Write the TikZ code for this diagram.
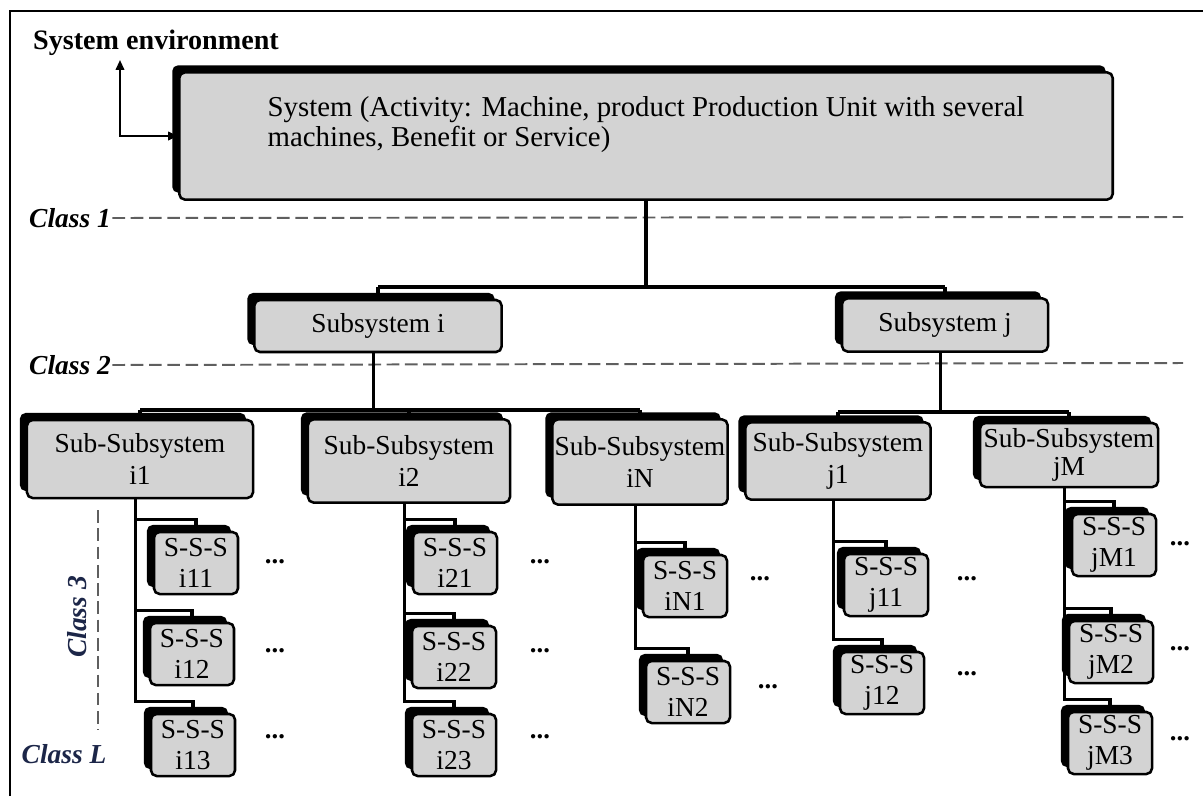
\documentclass[tikz,border=0pt]{standalone}
\usepackage{fontspec}
\setmainfont{Liberation Serif}
\usetikzlibrary{arrows.meta,shadows,calc}
\definecolor{BoxGray}{RGB}{211,211,211}
\definecolor{DashGray}{RGB}{95,95,95}
\definecolor{ClassNavy}{RGB}{28,38,72}

\begin{document}
\begin{tikzpicture}[x=0.025cm,y=-0.025cm,>={Triangle[length=7pt,width=6pt]},
    unit/.style={rectangle,rounded corners=4pt,fill=BoxGray,draw=black,line width=1.8pt,
      align=center,inner sep=0pt,font=\fontsize{19.5}{22.5}\selectfont,
      general shadow={fill=black,shadow xshift=-5pt,shadow yshift=5pt}},
    box/.style 2 args={unit,minimum width=#1,minimum height=#2},
    sss/.style={box={2.1cm}{1.55cm}},
    link/.style={line width=2.2pt,black},
    level/.style={DashGray,line width=1.4pt,dash pattern=on 9pt off 4pt},
    cls/.style={font=\fontsize{19.5}{22}\selectfont\bfseries\itshape,inner sep=1pt},
    dots/.style={font=\fontsize{19}{19}\selectfont\bfseries,inner sep=0pt}]
  \useasboundingbox (0,0) rectangle (1203,796);
  \draw[line width=1.4pt] (10,796) -- (10,11) -- (1203,11);

  % system and environment
  \node[box={23.33cm}{3.18cm},align=left,font=\fontsize{20.5}{21}\selectfont] (sys) at (646,136)
    {System (Activity: Machine, product Production Unit with several\\machines, Benefit or Service)\\\mbox{}};
  \node[font=\fontsize{20}{22}\selectfont\bfseries] (env) at (156,43) {System environment};
  \coordinate (envtip) at (120,60);
  \draw[<->,line width=1.4pt] (envtip) |- (sys.west);

  % class lines
  \node[cls] (cls1) at (70,218) {Class 1};
  \node[cls] (cls2) at (70,365) {Class 2};
  \node[cls,text=ClassNavy,rotate=90] (cls3) at (77,617) {Class 3};
  \node[cls,text=ClassNavy] (clsL) at (64,754) {Class L};
  \draw[level] (cls1.east) -- (1183,217);
  \draw[level] (cls2.east) -- (1183,363);
  \draw[level] (98,510) -- (98,730);

  % subsystems
  \node[box={6.18cm}{1.3cm}] (subi) at (378,326) {Subsystem i};
  \node[box={5.15cm}{1.33cm}] (subj) at (945,325) {Subsystem j};

  % sub-subsystems
  \node[box={5.65cm}{1.95cm}] (i1) at (140,459) {Sub-Subsystem\\i1};
  \node[box={5.05cm}{2.08cm}] (i2) at (409,461) {Sub-Subsystem\\i2};
  \node[box={4.38cm}{2.13cm}] (iN) at (640,462) {Sub-Subsystem\\iN};
  \node[box={4.63cm}{1.93cm}] (j1) at (838,461) {Sub-Subsystem\\j1};
  \node[box={4.45cm}{1.6cm}] (jM) at (1069,455) {Sub-Subsystem\\[-3pt]jM};

  % S-S-S
  \node[sss] (i11) at (196,563) {S-S-S\\i11};
  \node[sss] (i12) at (192,654) {S-S-S\\i12};
  \node[sss] (i13) at (193,745) {S-S-S\\i13};
  \node[sss] (i21) at (455,563) {S-S-S\\i21};
  \node[sss] (i22) at (454,657) {S-S-S\\i22};
  \node[sss] (i23) at (454,745) {S-S-S\\i23};
  \node[sss] (iN1) at (685,586) {S-S-S\\iN1};
  \node[sss] (iN2) at (688,692) {S-S-S\\iN2};
  \node[sss] (j11) at (886,585) {S-S-S\\j11};
  \node[sss] (j12) at (882,683) {S-S-S\\j12};
  \node[sss] (jM1) at (1114,545) {S-S-S\\jM1};
  \node[sss] (jM2) at (1111,652) {S-S-S\\jM2};
  \node[sss] (jM3) at (1110,743) {S-S-S\\jM3};

  % dots
  \node[dots] (d11) at (275,562) {...};
  \node[dots] (d12) at (275,651) {...};
  \node[dots] (d13) at (275,737) {...};
  \node[dots] (d21) at (540,562) {...};
  \node[dots] (d22) at (540,651) {...};
  \node[dots] (d23) at (540,737) {...};
  \node[dots] (dN1) at (760,579) {...};
  \node[dots] (dN2) at (768,687) {...};
  \node[dots] (dj11) at (967,579) {...};
  \node[dots] (dj12) at (967,674) {...};
  \node[dots] (dM1) at (1180,544) {...};
  \node[dots] (dM2) at (1180,649) {...};
  \node[dots] (dM3) at (1180,739) {...};

  % connectors
  \coordinate (topbus) at (640,287);
  \coordinate (ibus) at (373,410);
  \coordinate (jbus) at (940,412);
  \draw[link] (sys.south) -- (sys.south |- topbus);
  \draw[link] (subi.north |- topbus) -- (subj.north |- topbus);
  \draw[link] (subi.north |- topbus) -- (subi.north);
  \draw[link] (subj.north |- topbus) -- (subj.north);
  \draw[link] ([xshift=-3pt]subi.south) -- ([xshift=-3pt]subi.south |- ibus);
  \draw[link] (i1.north |- ibus) -- (iN.north |- ibus);
  \foreach \n in {i1,i2,iN}
    \draw[link] (\n.north |- ibus) -- (\n.north);
  \draw[link] ([xshift=-3pt]subj.south) -- ([xshift=-3pt]subj.south |- jbus);
  \draw[link] (j1.north |- jbus) -- (jM.north |- jbus);
  \foreach \n in {j1,jM}
    \draw[link] (\n.north |- jbus) -- (\n.north);
  \foreach \p/\c in {i1/i11,i1/i12,i1/i13,i2/i21,i2/i22,i2/i23,iN/iN1,iN/iN2,
      j1/j11,j1/j12,jM/jM1,jM/jM2,jM/jM3}
    \draw[link] ([xshift=-3pt]\p.south) |- ([yshift=8pt]\c.north) -- (\c.north);
\end{tikzpicture}
\end{document}
